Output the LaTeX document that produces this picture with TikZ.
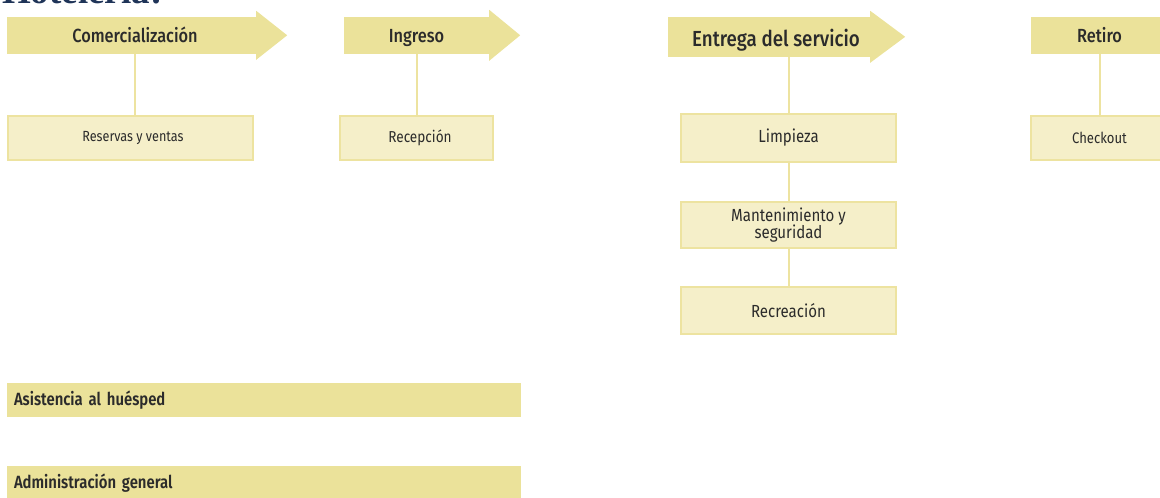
\documentclass[tikz,border=0pt]{standalone}
\usepackage{fontspec}
\setmainfont{Liberation Serif}
\newfontfamily\hdrfont[FakeStretch=0.86]{Fira Sans Medium}
\newfontfamily\barfont[FakeStretch=0.84]{Fira Sans SemiBold}
\newfontfamily\boxfont[FakeStretch=0.86]{Fira Sans}
\usetikzlibrary{calc}
\definecolor{hdrfill}{HTML}{EBE29A}
\definecolor{boxfill}{HTML}{F5EFC9}
\definecolor{boxline}{HTML}{EDE3A0}
\definecolor{txt}{HTML}{2B2B2B}
\definecolor{navy}{HTML}{1F3458}
\tikzset{
  hdr/.style={fill=hdrfill, draw=none, inner sep=0pt, text=txt, text height=13pt, text depth=0pt, font=\hdrfont\fontsize{19}{21}\selectfont},
  tip/.style={fill=hdrfill, draw=none},
  subbox/.style={fill=boxfill, draw=boxline, line width=1.5pt, inner sep=0pt, text=txt, align=center, font=\boxfont\fontsize{14.7}{17}\selectfont},
  bigsub/.style={subbox, font=\boxfont\fontsize{17.5}{17.5}\selectfont},
  bar/.style={fill=hdrfill, draw=none, inner sep=0pt, text=txt, font=\barfont\fontsize{17.7}{19}\selectfont},
  conn/.style={draw=boxline, line width=2pt}
}
\begin{document}
\begin{tikzpicture}[x=1pt,y=-1pt]
\useasboundingbox (0,0) rectangle (1160,498);
\clip (0,0) rectangle (1160,498);
% title (cut off at top)
\node[anchor=base west, inner sep=0pt, text=navy, font=\bfseries\fontsize{37}{40}\selectfont] (title) at (2,3) {Hotelería:};
% headers
\node[hdr, minimum width=249pt, minimum height=37pt] (h1) at (131.5,35.5) {\hspace*{7pt}Comercialización};
\fill[tip] (h1.north east) ++(0,-6) -- ++(31,24.5) -- ++(-31,24.5) -- cycle;
\node[hdr, minimum width=145pt, minimum height=37pt] (h2) at (416.5,35.5) {Ingreso};
\fill[tip] (h2.north east) ++(0,-7) -- ++(31,25.5) -- ++(-31,25.5) -- cycle;
\node[hdr, minimum width=202pt, minimum height=40pt, text height=18pt, text depth=0pt, font=\hdrfont\fontsize{21.8}{24}\selectfont] (h3) at (769,37) {\hspace*{14pt}Entrega del servicio};
\fill[tip] (h3.north east) ++(0,-6) -- ++(35,26) -- ++(-35,26) -- cycle;
\node[hdr, minimum width=137pt, minimum height=37pt] (h4) at (1099.5,35.5) {Retiro};
% sub boxes
\node[subbox, minimum width=245pt, minimum height=44pt] (r1) at (130.5,138) {\hspace*{5pt}Reservas y ventas};
\node[subbox, minimum width=153pt, minimum height=44pt, font=\boxfont\fontsize{15.8}{18}\selectfont] (r2) at (416.5,138) {\hspace*{7pt}Recepción};
\node[bigsub, minimum width=215pt, minimum height=48pt] (e1) at (788.5,138) {Limpieza};
\node[bigsub, minimum width=215pt, minimum height=46pt] (e2) at (788.5,225) {Mantenimiento y\\seguridad};
\node[bigsub, minimum width=215pt, minimum height=47pt] (e3) at (788.5,310.5) {Recreación};
\node[subbox, minimum width=137pt, minimum height=44pt, font=\boxfont\fontsize{15.2}{17}\selectfont] (c1) at (1099.5,138) {Checkout};
% bars
\node[bar, minimum width=514pt, minimum height=34pt, text width=500pt, align=left] (a1) at (264,400) {Asistencia al huésped};
\node[bar, minimum width=514pt, minimum height=34pt, text width=500pt, align=left] (a2) at (264,483) {Administración general};
% connectors
\draw[conn] ([xshift=3.5pt]h1.south) -- ([xshift=3.5pt]h1.south |- r1.north);
\draw[conn] (h2.south) -- (r2.north);
\draw[conn] (e1.north |- h3.south) -- (e1.north);
\draw[conn] (e1.south) -- (e2.north);
\draw[conn] (e2.south) -- (e3.north);
\draw[conn] (h4.south) -- (c1.north);
\end{tikzpicture}
\end{document}
